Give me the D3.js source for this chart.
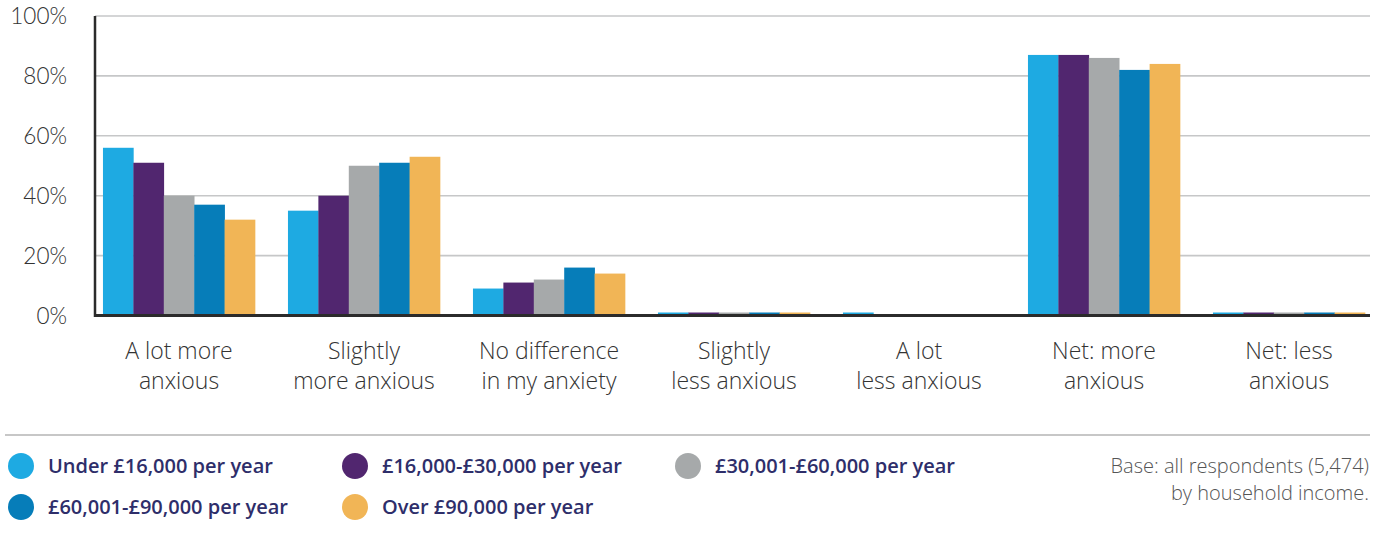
<!DOCTYPE html>
<html><head><meta charset="utf-8">
<script src="https://cdn.jsdelivr.net/npm/d3@7"></script>
<style>
html,body{margin:0;padding:0;background:#fff;}
svg{display:block;}
</style></head>
<body><svg id="c" width="1381" height="533"></svg>
<script>
const categories = [
  ["A lot more","anxious"],
  ["Slightly","more anxious"],
  ["No difference","in my anxiety"],
  ["Slightly","less anxious"],
  ["A lot","less anxious"],
  ["Net: more","anxious"],
  ["Net: less","anxious"]
];
const seriesNames = ["Under £16,000 per year","£16,000-£30,000 per year","£30,001-£60,000 per year","£60,001-£90,000 per year","Over £90,000 per year"];
const under16k   = [56, 35, 9, 1, 1, 87, 1];
const k16to30    = [51, 40, 11, 1, 0, 87, 1];
const k30to60    = [40, 50, 12, 1, 0, 86, 1];
const k60to90    = [37, 51, 16, 1, 0, 82, 1];
const over90k    = [32, 53, 14, 1, 0, 84, 1];
const seriesValues = [under16k, k16to30, k30to60, k60to90, over90k];
const colors = ["#1eaae2","#51266f","#a6a9aa","#067db9","#f1b556"];
const yTicks = [0,20,40,60,80,100];
const baseNote = ["Base: all respondents (5,474)","by household income."];

const svg = d3.select("#c");
const font = "Lato, 'Open Sans', sans-serif";
const font2 = "'Open Sans', Lato, sans-serif";
const catIdx = categories.map((d,i)=>i);
const x0 = d3.scaleBand().domain(catIdx).range([86.5,1381.5]).paddingInner(0.178).paddingOuter(0.089);
const x1 = d3.scaleBand().domain(d3.range(seriesNames.length)).range([0,x0.bandwidth()]);
const y = d3.scaleLinear().domain([0,100]).range([315.5,16]);
const plotL = 95, plotR = 1370;

// gridlines
svg.append("g").selectAll("line").data(yTicks.filter(t=>t>0)).join("line")
  .attr("x1",plotL).attr("x2",plotR).attr("y1",d=>y(d)).attr("y2",d=>y(d))
  .attr("stroke","#c6c7c8").attr("stroke-width",1.6);

// y labels
svg.append("g").selectAll("text").data(yTicks).join("text")
  .attr("x",67).attr("y",d=>y(d)+8).attr("text-anchor","end")
  .attr("font-family",font).attr("font-weight",300).attr("font-size",22.5).attr("fill","#333")
  .text(d=>d+"%");

// bars
const g = svg.append("g");
seriesValues.forEach((vals,si)=>{
  g.append("g").selectAll("rect").data(vals).join("rect")
    .attr("x",(d,i)=>x0(i)+x1(si)).attr("width",x1.bandwidth()+0.3)
    .attr("y",d=>y(d)).attr("height",d=>y(0)-y(d))
    .attr("fill",colors[si]);
});

// axes lines
svg.append("line").attr("x1",plotL).attr("x2",plotL).attr("y1",y(100)).attr("y2",y(0)+1.5)
  .attr("stroke","#2b2b2b").attr("stroke-width",2.5);
svg.append("line").attr("x1",plotL-1).attr("x2",plotR).attr("y1",y(0)).attr("y2",y(0))
  .attr("stroke","#2b2b2b").attr("stroke-width",2.8);

// category labels
const cl = svg.append("g").selectAll("text").data(categories).join("text")
  .attr("text-anchor","middle").attr("font-family",font2).attr("font-weight",300)
  .attr("font-size",23).attr("fill","#333");
cl.each(function(d,i){
  const t = d3.select(this);
  d.forEach((line,li)=>{
    t.append("tspan").attr("x",x0(i)+x0.bandwidth()/2).attr("y",359+li*30).text(line);
  });
});

// separator
svg.append("line").attr("x1",5).attr("x2",1370).attr("y1",435).attr("y2",435)
  .attr("stroke","#b5b5b5").attr("stroke-width",1.5);

// legend
const legPos = [[21,466],[355,466],[688,466],[21,507],[355,507]];
const lg = svg.append("g").selectAll("g").data(seriesNames).join("g")
  .attr("transform",(d,i)=>`translate(${legPos[i][0]},${legPos[i][1]})`);
lg.append("circle").attr("r",13).attr("fill",(d,i)=>colors[i]);
lg.append("text").attr("x",27).attr("y",7).attr("font-family",font2).attr("font-weight",600)
  .attr("font-size",20).attr("fill","#2e2e6a").text(d=>d);

// base note
svg.append("g").selectAll("text").data(baseNote).join("text")
  .attr("x",1369).attr("y",(d,i)=>473+i*27).attr("text-anchor","end")
  .attr("font-family",font2).attr("font-weight",300).attr("font-size",20).attr("fill","#555")
  .text(d=>d);
</script></body></html>
